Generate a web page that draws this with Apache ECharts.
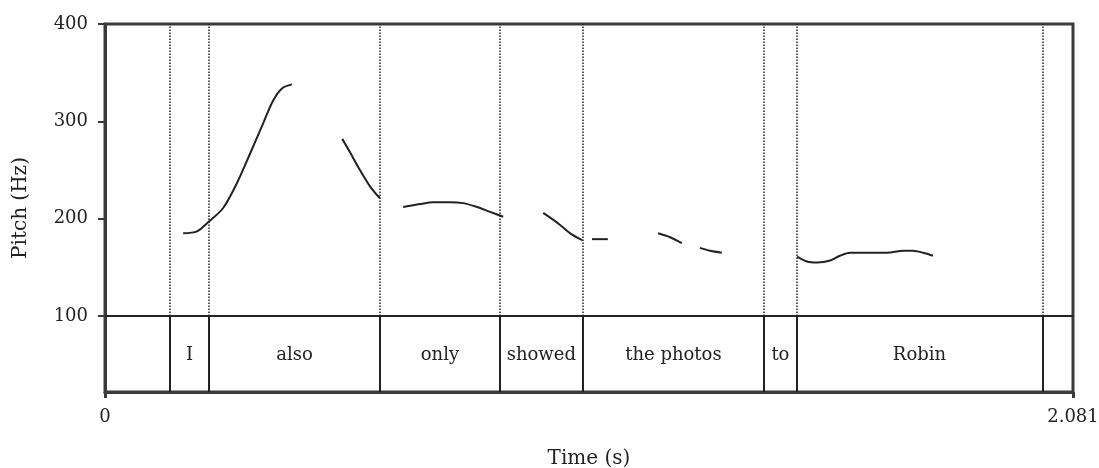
<!DOCTYPE html>
<html>
<head>
<meta charset="utf-8">
<script src="https://cdn.jsdelivr.net/npm/echarts@6/dist/echarts.min.js"></script>
<style>
  html, body { margin: 0; padding: 0; background: #fff; }
  #chart { width: 1099px; height: 468px; }
</style>
</head>
<body>
<div id="chart"></div>
<script>
// word boundaries (s) and the words between them
const boundaries = [0.140, 0.224, 0.591, 0.849, 1.027, 1.417, 1.487, 2.015];
const words = ["I", "also", "only", "showed", "the photos", "to", "Robin"];

// pitch track pieces, [time s, pitch Hz]
const segI = [[0.168, 185], [0.198, 187], [0.221, 196], [0.254, 211], [0.284, 237], [0.312, 267], [0.340, 298], [0.361, 321], [0.381, 334], [0.402, 338]];
const segAlso = [[0.510, 282], [0.527, 268], [0.548, 250], [0.570, 233], [0.591, 221]];
const segOnly = [[0.641, 212], [0.677, 215], [0.705, 217], [0.742, 217], [0.770, 216], [0.800, 212], [0.828, 207], [0.856, 202]];
const segShowed = [[0.942, 206], [0.972, 196], [1.000, 185], [1.026, 178]];
const segThe = [[1.047, 179], [1.081, 179]];
const segPhot = [[1.189, 185], [1.215, 181], [1.240, 175]];
const segOs = [[1.279, 170], [1.301, 167], [1.326, 165]];
const segRobin = [[1.488, 161], [1.509, 156], [1.531, 155], [1.559, 157], [1.580, 162], [1.602, 165], [1.638, 165], [1.681, 165], [1.716, 167], [1.737, 167], [1.759, 165], [1.780, 162]];

const tEnd = 2.081;
const yTicks = [100, 200, 300, 400];
const xTicks = [0, 2.081];

const ink = "#222";
const frame = "#3a3a3a";
const serif = "DejaVu Serif";

const pitchPieces = [segI, segAlso, segOnly, segShowed, segThe, segPhot, segOs, segRobin];

const boundaryLines = [];
boundaries.forEach(function (t) {
  boundaryLines.push([
    { coord: [t, 100], lineStyle: { type: "dotted", width: 1.5, color: ink } },
    { coord: [t, 400] }
  ]);
  boundaryLines.push([
    { coord: [t, 22], lineStyle: { type: "solid", width: 2, color: ink } },
    { coord: [t, 100] }
  ]);
});
boundaryLines.push([
  { coord: [0, 100], lineStyle: { type: "solid", width: 2, color: ink } },
  { coord: [tEnd, 100] }
]);

const wordPoints = words.map(function (w, i) {
  return { value: [(boundaries[i] + boundaries[i + 1]) / 2, 60], name: w };
});

const chart = echarts.init(document.getElementById("chart"));

const series = pitchPieces.map(function (seg) {
  return {
    type: "line",
    data: seg,
    smooth: 0.3,
    showSymbol: false,
    silent: true,
    lineStyle: { color: ink, width: 2 }
  };
});

series.push({
  type: "scatter",
  data: wordPoints,
  symbolSize: 0,
  silent: true,
  itemStyle: { opacity: 1 },
  label: {
    show: true,
    formatter: "{b}",
    position: "inside",
    fontFamily: serif,
    fontSize: 18,
    color: ink,
    textBorderWidth: 0
  },
  markLine: {
    silent: true,
    symbol: "none",
    label: { show: false },
    data: boundaryLines
  }
});

chart.setOption({
  animation: false,
  grid: {
    left: 105,
    right: 26,
    top: 24,
    bottom: 76,
    outerBoundsMode: "none",
    containLabel: false,
    show: true,
    borderColor: frame,
    borderWidth: 3,
    backgroundColor: "transparent"
  },
  xAxis: {
    type: "value",
    min: 0,
    max: tEnd,
    name: "Time (s)",
    nameLocation: "middle",
    nameGap: 57,
    nameTextStyle: { fontFamily: serif, fontSize: 20, color: ink },
    splitLine: { show: false },
    axisLine: { show: true, onZero: false, lineStyle: { color: frame, width: 3 } },
    axisTick: { show: true, customValues: xTicks, length: 6, lineStyle: { color: frame, width: 3 } },
    axisLabel: {
      customValues: xTicks,
      margin: 16,
      fontFamily: serif,
      fontSize: 18,
      color: ink,
      formatter: function (v) { return v === 0 ? "0" : String(v); }
    }
  },
  yAxis: {
    type: "value",
    min: 22,
    max: 400,
    name: "Pitch (Hz)",
    nameLocation: "middle",
    nameGap: 74,
    nameTextStyle: { fontFamily: serif, fontSize: 20, color: ink },
    splitLine: { show: false },
    axisLine: { show: true, lineStyle: { color: frame, width: 3 } },
    axisTick: { show: true, customValues: yTicks, length: 7, lineStyle: { color: frame, width: 2 } },
    axisLabel: {
      customValues: yTicks,
      margin: 17,
      fontFamily: serif,
      fontSize: 18,
      color: ink
    }
  },
  series: series
});
</script>
</body>
</html>
